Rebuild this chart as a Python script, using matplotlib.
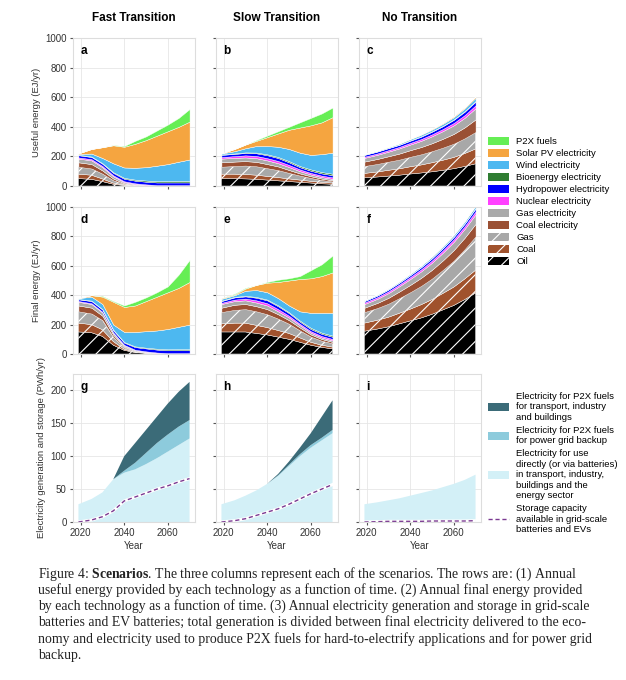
import numpy as np
import matplotlib.pyplot as plt
from matplotlib.patches import Patch
from matplotlib.lines import Line2D

plt.rcParams['font.family'] = ['Liberation Sans', 'DejaVu Sans']
plt.rcParams['hatch.color'] = 'white'
plt.rcParams['hatch.linewidth'] = 0.8
plt.rcParams['mathtext.fontset'] = 'custom'
plt.rcParams['mathtext.bf'] = 'Liberation Serif:bold'
plt.rcParams['mathtext.rm'] = 'Liberation Serif'

years = [2019, 2025, 2030, 2035, 2040, 2045, 2050, 2055, 2060, 2065, 2070]

techs = ['Oil', 'Coal', 'Gas', 'Coal electricity', 'Gas electricity', 'Nuclear electricity',
         'Hydropower electricity', 'Bioenergy electricity', 'Wind electricity',
         'Solar PV electricity', 'P2X fuels']
tech_colors = ['#000000', '#a0522d', '#a8a8a8', '#9a5034', '#aaaaaa', '#ff40ff',
               '#0000ff', '#2f7d32', '#4db8f0', '#f5a540', '#66ee55']
tech_hatch = ['//', '//', '//', None, None, None, None, None, None, None, None]

# useful energy, fast transition (EJ/yr)
useful_fast = [
    [50, 45, 30, 12, 4, 2, 1, 0, 0, 0, 0],
    [30, 28, 18, 8, 3, 1, 0, 0, 0, 0, 0],
    [50, 45, 35, 18, 6, 3, 2, 1, 1, 1, 1],
    [30, 30, 22, 12, 5, 2, 1, 0, 0, 0, 0],
    [25, 25, 22, 15, 8, 5, 3, 2, 2, 2, 2],
    [8, 8, 8, 7, 6, 5, 4, 3, 3, 3, 3],
    [15, 15, 15, 16, 17, 18, 18, 18, 18, 18, 18],
    [3, 3, 4, 5, 6, 7, 8, 8, 9, 10, 10],
    [5, 20, 35, 60, 70, 80, 90, 105, 115, 130, 145],
    [4, 31, 73, 122, 140, 162, 183, 203, 222, 236, 256],
    [0, 0, 0, 2, 5, 20, 25, 35, 45, 60, 85],
]
useful_slow = [
    [50, 50, 48, 45, 40, 35, 30, 25, 20, 15, 12],
    [30, 30, 30, 28, 25, 22, 18, 15, 12, 10, 8],
    [50, 55, 60, 60, 55, 50, 40, 30, 22, 15, 10],
    [30, 30, 30, 30, 28, 25, 20, 15, 12, 10, 8],
    [25, 25, 25, 25, 25, 22, 20, 15, 12, 10, 10],
    [10, 12, 14, 15, 15, 15, 14, 12, 10, 10, 10],
    [15, 15, 16, 18, 20, 20, 18, 15, 15, 15, 15],
    [3, 3, 4, 5, 6, 7, 8, 8, 9, 9, 10],
    [7, 15, 28, 44, 56, 69, 82, 90, 98, 121, 142],
    [0, 15, 25, 35, 60, 90, 130, 170, 200, 215, 240],
    [0, 0, 0, 5, 10, 15, 20, 35, 50, 60, 65],
]
useful_none = [
    [55, 61, 67, 73, 81, 88, 96, 106, 117, 132, 150],
    [30, 34, 39, 43, 49, 54, 61, 68, 76, 87, 100],
    [50, 54, 58, 62, 67, 72, 78, 85, 93, 103, 115],
    [30, 34, 37, 41, 45, 49, 54, 60, 66, 74, 85],
    [25, 28, 31, 35, 38, 42, 47, 52, 58, 65, 75],
    [8, 9, 10, 10, 11, 12, 13, 14, 16, 18, 20],
    [12, 13, 14, 14, 15, 16, 18, 19, 21, 23, 25],
    [2, 2, 2, 2, 3, 3, 3, 3, 3, 4, 4],
    [3, 4, 5, 7, 8, 10, 11, 13, 15, 18, 22],
    [1, 1, 2, 2, 3, 4, 5, 6, 7, 8, 10],
    [0, 0, 0, 0, 0, 0, 0, 0, 0, 0, 0],
]
final_fast = [
    [150, 145, 120, 60, 25, 10, 5, 2, 0, 0, 0],
    [60, 55, 45, 25, 8, 3, 1, 0, 0, 0, 0],
    [80, 75, 65, 30, 12, 5, 3, 1, 1, 1, 1],
    [40, 40, 30, 15, 6, 3, 2, 1, 0, 0, 0],
    [25, 25, 22, 12, 8, 5, 4, 3, 2, 2, 2],
    [5, 5, 5, 4, 3, 3, 3, 3, 3, 3, 3],
    [12, 15, 15, 15, 15, 18, 20, 20, 20, 20, 20],
    [2, 3, 3, 4, 4, 5, 5, 6, 6, 7, 7],
    [6, 27, 35, 35, 69, 98, 112, 124, 138, 152, 167],
    [0, 10, 50, 155, 170, 180, 205, 230, 250, 265, 290],
    [0, 0, 5, 5, 10, 25, 25, 30, 40, 90, 150],
]
final_slow = [
    [150, 150, 150, 140, 130, 115, 100, 80, 60, 45, 35],
    [55, 60, 60, 55, 50, 45, 40, 30, 20, 15, 12],
    [80, 90, 95, 95, 90, 80, 65, 50, 38, 30, 25],
    [30, 35, 35, 35, 35, 30, 25, 20, 15, 12, 10],
    [25, 25, 25, 25, 25, 20, 18, 15, 12, 10, 10],
    [8, 10, 12, 15, 15, 15, 12, 10, 10, 10, 10],
    [12, 15, 15, 18, 20, 20, 18, 15, 15, 15, 15],
    [3, 3, 4, 5, 5, 6, 6, 7, 8, 8, 8],
    [12, 12, 34, 47, 50, 49, 46, 63, 102, 135, 155],
    [5, 5, 15, 35, 65, 110, 170, 220, 235, 250, 275],
    [0, 5, 5, 0, 5, 15, 15, 20, 55, 80, 115],
]
final_none = [
    [155, 170, 185, 205, 225, 245, 270, 300, 330, 370, 415],
    [55, 60, 65, 72, 80, 90, 100, 112, 125, 140, 155],
    [75, 83, 92, 103, 115, 128, 143, 160, 180, 203, 230],
    [30, 35, 40, 45, 50, 55, 60, 65, 72, 78, 85],
    [25, 28, 32, 36, 40, 44, 48, 52, 56, 60, 65],
    [10, 11, 12, 12, 13, 14, 15, 16, 17, 18, 20],
    [10, 11, 12, 12, 13, 14, 15, 16, 17, 18, 20],
    [2, 2, 2, 2, 2, 2, 2, 2, 2, 2, 3],
    [5, 6, 6, 7, 8, 9, 10, 11, 12, 13, 15],
    [1, 1, 1, 2, 2, 2, 3, 3, 4, 4, 5],
    [0, 0, 0, 0, 0, 0, 0, 0, 0, 0, 0],
]

# electricity (PWh/yr): direct use, P2X for backup, P2X for transport etc, storage
elec_direct = {
    'fast': [27, 35, 45, 65, 75, 80, 88, 97, 107, 117, 127],
    'slow': [27, 33, 40, 48, 58, 70, 85, 100, 113, 124, 135],
    'none': [27, 30, 33, 36, 40, 44, 48, 53, 58, 64, 72],
}
elec_backup = {
    'fast': [0, 0, 0, 0, 3, 10, 17, 23, 26, 28, 28],
    'slow': [0, 0, 0, 0, 0, 1, 2, 3, 4, 4, 5],
    'none': [0, 0, 0, 0, 0, 0, 0, 0, 0, 0, 0],
}
elec_p2x = {
    'fast': [0, 0, 0, 0, 22, 30, 35, 40, 47, 53, 58],
    'slow': [0, 0, 0, 0, 0, 2, 5, 10, 18, 32, 45],
    'none': [0, 0, 0, 0, 0, 0, 0, 0, 0, 0, 0],
}
storage = {
    'fast': [0, 3, 8, 17, 32, 38, 44, 50, 55, 61, 66],
    'slow': [0, 2, 5, 10, 15, 20, 27, 35, 43, 50, 57],
    'none': [0, 0.5, 1, 1, 1, 1, 1.5, 1.5, 1.5, 1.5, 2],
}

col_titles = ['Fast Transition', 'Slow Transition', 'No Transition']
keys = ['fast', 'slow', 'none']
letters = 'abcdefghi'

fig = plt.figure(figsize=(6.26, 6.8), dpi=100)
W, H = 626, 680
lefts = [73, 216, 359]
rows = [(38, 186), (207, 354), (374, 522)]

def style(ax):
    ax.set_facecolor('white')
    ax.grid(True, color='#e6e6e6', linewidth=0.6)
    ax.set_axisbelow(True)
    for s in ax.spines.values():
        s.set_color('#dddddd')
        s.set_linewidth(0.8)
    ax.tick_params(labelsize=7, length=2.5, color='#555555', labelcolor='#333333', pad=2)
    ax.set_xlim(2016.5, 2072.5)
    ax.set_xticks([2020, 2040, 2060])

energy = [[useful_fast, useful_slow, useful_none], [final_fast, final_slow, final_none]]
for r in range(3):
    for c in range(3):
        top, bot = rows[r]
        ax = fig.add_axes([lefts[c] / W, 1 - bot / H, 122 / W, (bot - top) / H])
        style(ax)
        if r < 2:
            polys = ax.stackplot(years, *energy[r][c], colors=tech_colors, linewidth=0.3,
                                 edgecolor='white')
            for p, h in zip(polys, tech_hatch):
                if h:
                    p.set_hatch(h)
            ax.set_ylim(0, 1000)
            ax.set_yticks([0, 200, 400, 600, 800, 1000])
            ax.set_xticklabels([])
        else:
            k = keys[c]
            ax.stackplot(years, elec_direct[k], elec_backup[k], elec_p2x[k],
                         colors=['#d3f0f7', '#8dcbdc', '#3b6b78'], linewidth=0)
            ax.plot(years, storage[k], color='white', linewidth=2.2)
            ax.plot(years, storage[k], color='#7b3a92', linewidth=1.0, dashes=(3, 2))
            ax.set_ylim(0, 225)
            ax.set_yticks([0, 50, 100, 150, 200])
            ax.set_xlabel('Year', fontsize=7, color='#333333', labelpad=2)
        if c > 0:
            ax.set_yticklabels([])
        ax.text(0.06, 0.95, letters[r * 3 + c], transform=ax.transAxes, fontsize=8.5,
                fontweight='bold', va='top', ha='left')
        if r == 0:
            ax.set_title(col_titles[c], fontsize=8.5, fontweight='bold', pad=12)
        if c == 0:
            lab = ['Useful energy (EJ/yr)', 'Final energy (EJ/yr)',
                   'Electricity generation and storage (PWh/yr)'][r]
            ax.set_ylabel(lab, fontsize=6.8, color='#333333', labelpad=3)

handles = [Patch(facecolor=tech_colors[i], hatch=tech_hatch[i], edgecolor='white', linewidth=0)
           for i in range(len(techs) - 1, -1, -1)]
fig.legend(handles, techs[::-1], loc='upper left', bbox_to_anchor=(484 / W, 1 - 133 / H),
           frameon=False, fontsize=6.8, handlelength=2.2, handleheight=0.9,
           labelspacing=0.3, handletextpad=0.8, borderaxespad=0)

h3 = [Patch(facecolor='#3b6b78'), Patch(facecolor='#8dcbdc'), Patch(facecolor='#d3f0f7'),
      Line2D([0], [0], color='#7b3a92', linewidth=1.0, dashes=(3, 2))]
l3 = ['Electricity for P2X fuels\nfor transport, industry\nand buildings',
      'Electricity for P2X fuels\nfor power grid backup',
      'Electricity for use\ndirectly (or via batteries)\nin transport, industry,\nbuildings and the\nenergy sector',
      'Storage capacity\navailable in grid-scale\nbatteries and EVs']
fig.legend(h3, l3, loc='upper left', bbox_to_anchor=(484 / W, 1 - 388 / H),
           frameon=False, fontsize=6.8, handlelength=2.2, handleheight=0.9,
           labelspacing=0.45, handletextpad=0.8, borderaxespad=0)

caption = [
    r'Figure 4: $\bf{Scenarios}$. The three columns represent each of the scenarios. The rows are: (1) Annual',
    'useful energy provided by each technology as a function of time. (2) Annual final energy provided',
    'by each technology as a function of time. (3) Annual electricity generation and storage in grid-scale',
    'batteries and EV batteries; total generation is divided between final electricity delivered to the eco-',
    'nomy and electricity used to produce P2X fuels for hard-to-electrify applications and for power grid',
    'backup.',
]
for i, line in enumerate(caption):
    fig.text(38 / W, 1 - (574 + i * 16.2) / H, line, fontsize=9.9, family='Liberation Serif',
             va='center', ha='left', color='#222222')

fig.savefig('out.png', dpi=100)
